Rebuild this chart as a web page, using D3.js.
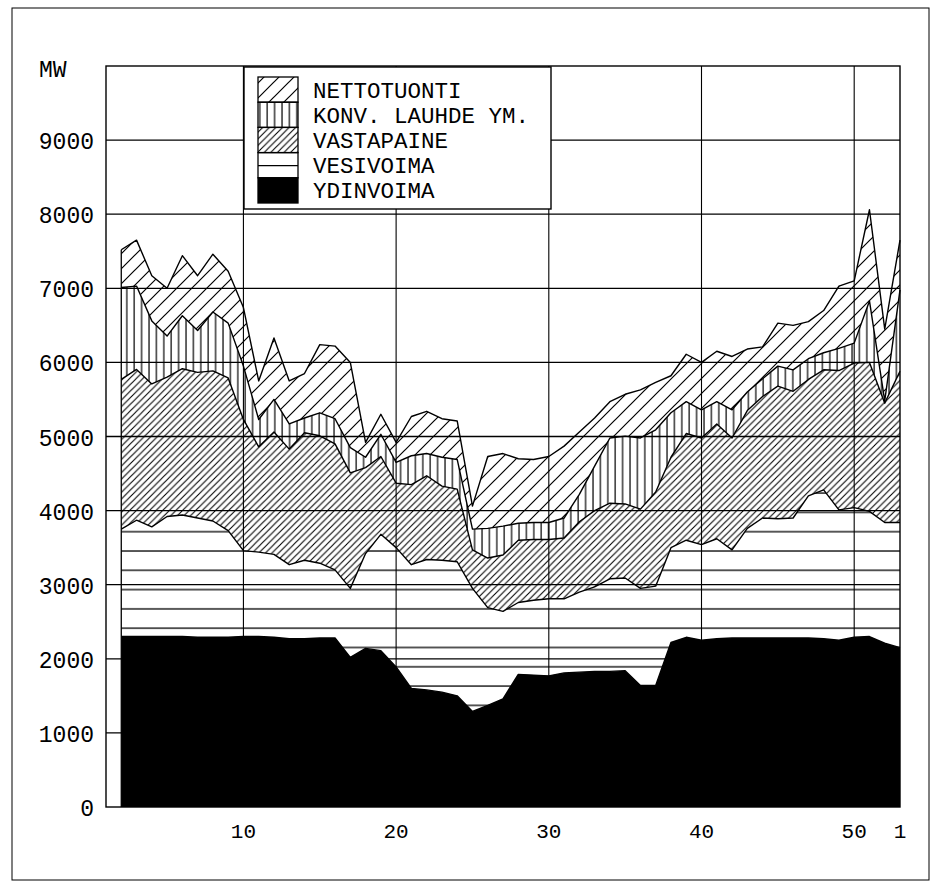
<!DOCTYPE html>
<html>
<head>
<meta charset="utf-8">
<script src="https://cdn.jsdelivr.net/npm/d3@7"></script>
<style>
body{margin:0;background:#fff;}
text{font-family:"Liberation Mono","DejaVu Sans Mono",monospace;fill:#000;}
</style>
</head>
<body>
<script>
// weeks 2..53 (53 = week 1 of next year)
var weeks=d3.range(2,54)
var ydinvoima=[2300,2300,2300,2300,2300,2290,2290,2290,2300,2300,2290,2270,2270,2280,2280,2020,2140,2110,1890,1600,1580,1550,1500,1290,1370,1460,1790,1780,1770,1810,1820,1830,1830,1840,1640,1640,2220,2290,2250,2270,2280,2280,2280,2280,2280,2280,2270,2250,2290,2300,2210,2150]
var vesivoima=[1450,1570,1480,1620,1640,1610,1570,1440,1160,1140,1120,1000,1060,1010,920,930,1280,1570,1610,1670,1760,1780,1810,1660,1320,1180,970,1010,1040,1000,1080,1140,1250,1250,1310,1340,1280,1310,1290,1350,1190,1480,1620,1610,1620,1920,2010,1760,1750,1690,1630,1690]
var vastapaine=[2020,2035,1930,1880,1975,1965,2025,2060,1770,1420,1650,1560,1720,1720,1700,1560,1160,1050,870,1080,1130,1000,980,520,670,760,840,820,800,820,950,1030,1020,1000,1070,1270,1220,1440,1440,1550,1510,1590,1640,1790,1710,1570,1620,1880,1950,2010,1610,2040]
var konvLauhde=[1240,1125,850,555,715,565,795,740,720,370,440,340,200,310,340,340,140,300,280,390,300,390,400,280,400,390,230,230,230,270,370,600,880,915,960,840,600,430,380,300,380,250,240,270,290,280,230,300,270,830,30,1100]
var nettotuonti=[510,620,610,645,810,740,780,700,790,520,830,580,600,920,980,1150,200,270,270,530,570,520,520,310,970,980,870,850,890,970,840,650,490,565,650,640,500,640,640,680,720,580,430,580,600,500,570,840,840,1230,970,670]
var keys=["ydinvoima","vesivoima","vastapaine","konvLauhde","nettotuonti"]
var legendLabels=["NETTOTUONTI","KONV. LAUHDE YM.","VASTAPAINE","VESIVOIMA","YDINVOIMA"]
var yTicks=[0,1000,2000,3000,4000,5000,6000,7000,8000,9000]
var xTicks=[10,20,30,40,50,53]
var xTickLabels=["10","20","30","40","50","1"]

var table=weeks.map(function(w,i){
  return {week:w,ydinvoima:ydinvoima[i],vesivoima:vesivoima[i],vastapaine:vastapaine[i],konvLauhde:konvLauhde[i],nettotuonti:nettotuonti[i]}
})
var series=d3.stack().keys(keys)(table)

var screen={width:934,height:885}
var margins={top:66,right:34,bottom:78,left:106}
var x=d3.scaleLinear().domain([1,53]).range([margins.left,screen.width-margins.right])
var y=d3.scaleLinear().domain([0,10000]).range([screen.height-margins.bottom,margins.top])

var svg=d3.select("body").append("svg")
          .attr("width",screen.width)
          .attr("height",screen.height)

// hatch patterns
var defs=svg.append("defs")
var diag=function(id,s,sw){
  var p=defs.append("pattern").attr("id",id)
            .attr("patternUnits","userSpaceOnUse")
            .attr("width",s).attr("height",s)
  p.append("path")
   .attr("d","M0,"+s+"L"+s+",0M-2,2L2,-2M"+(s-2)+","+(s+2)+"L"+(s+2)+","+(s-2))
   .attr("stroke","#000").attr("stroke-width",sw)
}
diag("pNetto",15,1.2)
diag("pVasta",6.6,1.1)
var pk=defs.append("pattern").attr("id","pKonv")
           .attr("patternUnits","userSpaceOnUse")
           .attr("width",7.4).attr("height",10)
pk.append("line").attr("x1",1).attr("x2",1).attr("y1",0).attr("y2",10)
  .attr("stroke","#000").attr("stroke-width",1.2)
var pv=defs.append("pattern").attr("id","pVesi")
           .attr("patternUnits","userSpaceOnUse")
           .attr("width",20).attr("height",19.3)
           .attr("y",551-1)
pv.append("line").attr("x1",0).attr("x2",20).attr("y1",1).attr("y2",1)
  .attr("stroke","#000").attr("stroke-width",1.3)
var fills={ydinvoima:"#000",vesivoima:"url(#pVesi)",vastapaine:"url(#pVasta)",konvLauhde:"url(#pKonv)",nettotuonti:"url(#pNetto)"}

svg.append("rect").attr("x",12).attr("y",8).attr("width",917).attr("height",872)
   .attr("fill","none").attr("stroke","#000").attr("stroke-width",1)

// grid
var grid=svg.append("g").classed("grid",true)
grid.selectAll("line.h")
    .data(yTicks.slice(1))
    .enter()
    .append("line")
    .attr("x1",x(1)).attr("x2",x(53))
    .attr("y1",function(d){return y(d)}).attr("y2",function(d){return y(d)})
    .attr("stroke","#000").attr("stroke-width",1.3)
grid.selectAll("line.v")
    .data(xTicks.slice(0,5))
    .enter()
    .append("line")
    .attr("x1",function(d){return x(d)}).attr("x2",function(d){return x(d)})
    .attr("y1",y(0)).attr("y2",y(10000))
    .attr("stroke","#000").attr("stroke-width",1.1)

var area=d3.area()
           .x(function(d){return x(d.data.week)})
           .y0(function(d){return y(d[0])})
           .y1(function(d){return y(d[1])})
var topLine=d3.line()
              .x(function(d){return x(d.data.week)})
              .y(function(d){return y(d[1])})

var plot=svg.append("g").classed("plot",true)
plot.selectAll("path.area")
    .data(series)
    .enter()
    .append("path")
    .attr("d",area)
    .attr("fill",function(d){return fills[d.key]})
    .attr("stroke","none")
plot.selectAll("path.edge")
    .data(series)
    .enter()
    .append("path")
    .attr("d",topLine)
    .attr("fill","none")
    .attr("stroke","#000")
    .attr("stroke-width",1.4)
    .attr("stroke-linejoin","round")
plot.append("line")
    .attr("x1",x(2)).attr("x2",x(2))
    .attr("y1",y(0)).attr("y2",y(d3.sum(keys,function(k){return table[0][k]})))
    .attr("stroke","#000").attr("stroke-width",1.3)

// frame
svg.append("rect")
   .attr("x",x(1)).attr("y",y(10000))
   .attr("width",x(53)-x(1)).attr("height",y(0)-y(10000))
   .attr("fill","none").attr("stroke","#000").attr("stroke-width",1.4)

// axis labels
svg.selectAll("text.ylab")
   .data(yTicks)
   .enter()
   .append("text")
   .attr("x",94)
   .attr("y",function(d){return y(d)+9})
   .attr("text-anchor","end")
   .attr("font-size","23px")
   .text(function(d){return d})
svg.append("text").attr("x",39).attr("y",77).attr("font-size","23px").text("MW")
svg.selectAll("text.xlab")
   .data(xTicks)
   .enter()
   .append("text")
   .attr("x",function(d){return x(d)})
   .attr("y",838)
   .attr("text-anchor","middle")
   .attr("font-size","21px")
   .text(function(d,i){return xTickLabels[i]})

// legend
var legend=svg.append("g").classed("legend",true)
              .attr("transform","translate(244,67)")
legend.append("rect").attr("x",0).attr("y",0).attr("width",307).attr("height",142)
      .attr("fill","#fff").attr("stroke","#000").attr("stroke-width",1.4)
var legendKeys=keys.slice().reverse()
legend.selectAll("rect.sw")
      .data(legendKeys)
      .enter()
      .append("rect")
      .attr("x",14)
      .attr("y",function(d,i){return 10+25.2*i})
      .attr("width",40)
      .attr("height",25.2)
      .attr("fill",function(d){return d=="vesivoima"?"none":fills[d]})
      .attr("stroke","#000").attr("stroke-width",1.3)
legend.append("line").attr("x1",14).attr("x2",54).attr("y1",10+25.2*3+13).attr("y2",10+25.2*3+13)
      .attr("stroke","#000").attr("stroke-width",1.3)
legend.selectAll("text")
      .data(legendLabels)
      .enter()
      .append("text")
      .attr("x",69)
      .attr("y",function(d,i){return 30.5+25.2*i})
      .attr("font-size","22.5px")
      .text(function(d){return d})
</script>
</body>
</html>
